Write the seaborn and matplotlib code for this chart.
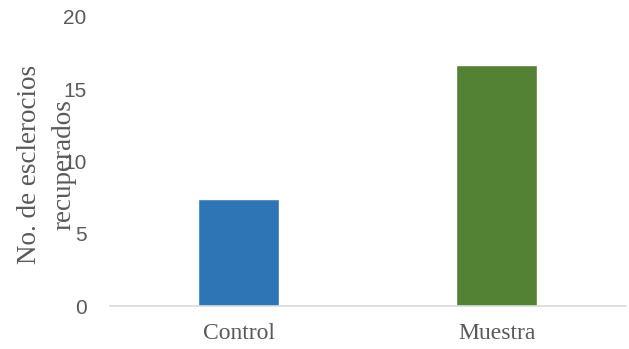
import matplotlib
matplotlib.use("Agg")
import matplotlib.pyplot as plt
import seaborn as sns
import pandas as pd

categories = ["Control", "Muestra"]
values = [7.4, 16.7]
colors = ["#2E75B6", "#548235"]
yticks = [0, 5, 10, 15, 20]
ylabel = "No. de esclerocios\nrecuperados"

df = pd.DataFrame({"cat": categories, "val": values})

sns.set_theme(style="white")
fig = plt.figure(figsize=(6.29, 3.49), dpi=100)
ax = fig.add_axes([110/629, 1-306/349, 515.5/629, 289/349])

sns.barplot(data=df, x="cat", y="val", hue="cat", palette=colors,
            width=0.314, legend=False, ax=ax, saturation=1)

ax.set_xlim(-0.5, 1.5)
ax.set_ylim(0, 20)
ax.set_yticks(yticks)
ax.set_yticklabels([str(t) for t in yticks], family="Liberation Sans",
                   fontsize=15, color="#595959")
ax.set_xticks(range(len(categories)))
ax.set_xticklabels(categories, family="Liberation Serif", fontsize=17,
                   color="#595959")
ax.tick_params(axis="y", length=0, pad=17)
ax.tick_params(axis="x", length=0, pad=12)
for s in ["top", "right", "left"]:
    ax.spines[s].set_visible(False)
ax.spines["bottom"].set_color("#D9D9D9")
ax.spines["bottom"].set_linewidth(1.2)
ax.set_xlabel("")
ax.set_ylabel(ylabel, family="Liberation Serif", fontsize=19.5,
              color="#595959", linespacing=1.45)
ax.yaxis.set_label_coords(-0.066, 0.49)

fig.savefig("out.png", dpi=100)
